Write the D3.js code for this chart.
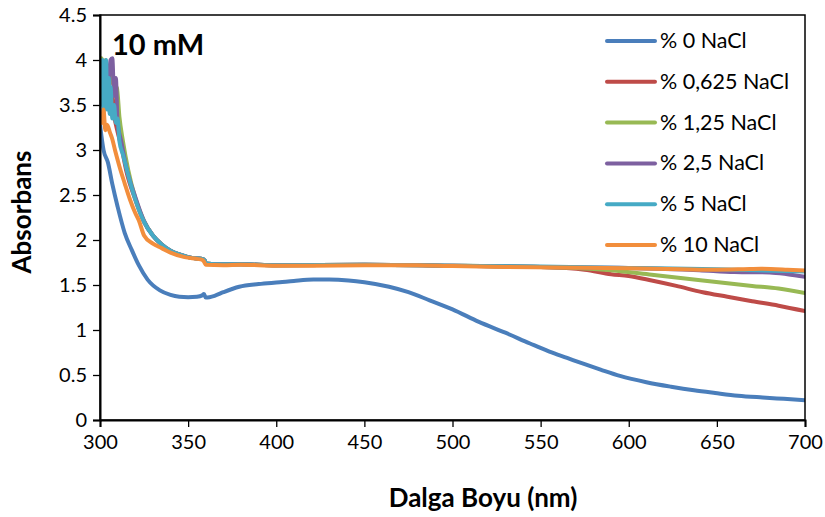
<!DOCTYPE html>
<html><head><meta charset="utf-8">
<script src="https://cdn.jsdelivr.net/npm/d3@7"></script>
<style>
html,body{margin:0;padding:0;background:#fff;}
svg{display:block;font-family:Lato,"Open Sans",sans-serif;}
</style></head>
<body><svg id="c" width="825" height="517"></svg>
<script>
const seriesNames = ["% 0 NaCl","% 0,625 NaCl","% 1,25 NaCl","% 2,5 NaCl","% 5 NaCl","% 10 NaCl"];
const seriesColors = ["#4A7EBB","#BE4B48","#98B954","#7D60A0","#46AAC5","#F28E3C"];
const xTicks = [300,350,400,450,500,550,600,650,700];
const yTicks = [0,0.5,1,1.5,2,2.5,3,3.5,4,4.5];

// % 0 NaCl
const wl0 = [300,302,304.5,307,310,314,318,322,327,334,340,345,350,355,358,359,360,365,370,379,390,402,410,421,430,441,450,464,475,487,500,515,530,544,555,565,575,584,595,610,624,637,649,662,676,688,700];
const ab0 = [3.28,3.0,2.86,2.62,2.37,2.08,1.89,1.72,1.56,1.44,1.39,1.37,1.365,1.37,1.385,1.40,1.36,1.38,1.42,1.48,1.51,1.53,1.545,1.56,1.56,1.55,1.53,1.48,1.42,1.33,1.23,1.09,0.97,0.85,0.76,0.69,0.62,0.56,0.49,0.42,0.37,0.33,0.30,0.27,0.25,0.235,0.22];
// % 0,625 NaCl
const wl1 = [300,301,302,303,304,305,306,307,308,310,312,315,320,325,330,335,340,345,350,355,358,359.5,360,370,380,400,450,500,550,575,590,600,613,627,642,656,670,685,700];
const ab1 = [3.75,3.95,3.8,3.6,3.9,3.7,3.5,3.6,3.4,3.2,3.05,2.76,2.45,2.2,2.05,1.95,1.88,1.84,1.81,1.795,1.79,1.77,1.74,1.73,1.73,1.72,1.725,1.715,1.70,1.67,1.62,1.60,1.55,1.49,1.42,1.37,1.32,1.27,1.21];
// % 1,25 NaCl
const wl2 = [300,301,302,303,304,305,306,307,308,309.6,311,313,316,320,325,330,335,340,345,350,355,358,359.5,360,370,380,400,450,500,550,570,590,613,642,670,685,700];
const ab2 = [3.8,4.02,3.7,4.0,3.8,3.9,3.85,3.75,3.72,3.69,3.37,3.1,2.78,2.47,2.21,2.05,1.95,1.88,1.84,1.81,1.795,1.79,1.77,1.74,1.73,1.73,1.72,1.725,1.715,1.70,1.69,1.665,1.615,1.55,1.49,1.46,1.41];
// % 2,5 NaCl
const wl3 = [300,301,302,303,304,305,306,307,308,309,310,312,315,320,325,330,335,340,345,350,355,358,359.5,360,370,380,400,450,500,550,600,640,660,680,690,700];
const ab3 = [3.7,3.9,3.6,3.95,3.7,3.8,4.0,4.02,3.6,3.8,3.3,3.1,2.8,2.48,2.21,2.05,1.95,1.88,1.84,1.81,1.795,1.79,1.77,1.74,1.73,1.73,1.72,1.725,1.715,1.70,1.69,1.665,1.645,1.64,1.62,1.59];
// % 5 NaCl
const wl4 = [300,300.5,301,301.5,302,302.5,303,303.5,304,305,305.5,306,307,308,309,310,311,313,316,320,325,330,335,340,345,350,355,358,359.5,360,370,380,400,450,500,550,600,650,700];
const ab4 = [3.6,3.9,3.5,4.0,3.4,3.9,3.6,4.0,3.45,3.8,3.4,3.7,3.35,3.5,3.3,3.35,3.1,2.95,2.72,2.45,2.2,2.05,1.95,1.88,1.84,1.81,1.795,1.79,1.77,1.74,1.73,1.73,1.72,1.725,1.715,1.705,1.69,1.675,1.65];
// % 10 NaCl
const wl5 = [300,301,302,303,304,305.7,307,308.5,311,314,317,320,322,325,330,335,340,348,355,358,359,360,370,380,400,420,450,480,500,530,560,600,630,650,665,675,690,700];
const ab5 = [3.39,3.30,3.45,3.22,3.28,3.19,3.12,3.0,2.82,2.63,2.45,2.30,2.22,2.05,1.96,1.91,1.86,1.81,1.79,1.78,1.76,1.725,1.72,1.725,1.715,1.715,1.72,1.72,1.71,1.70,1.695,1.685,1.675,1.67,1.675,1.68,1.67,1.66];

const wls = [wl0,wl1,wl2,wl3,wl4,wl5];
const abs = [ab0,ab1,ab2,ab3,ab4,ab5];

const svg = d3.select("#c");
const L=100,R=805,T=15,B=420;
const x = d3.scaleLinear().domain([300,700]).range([L,R]);
const y = d3.scaleLinear().domain([0,4.5]).range([B,T]);

svg.append("defs").append("clipPath").attr("id","clip")
  .append("rect").attr("x",L).attr("y",T-2).attr("width",R-L).attr("height",B-T+2);

const line = d3.line().x(d=>x(d[0])).y(d=>y(d[1])).curve(d3.curveMonotoneX);
const g = svg.append("g").attr("clip-path","url(#clip)");
seriesNames.forEach((n,i)=>{
  const pts = wls[i].map((w,j)=>[w,abs[i][j]]);
  g.append("path").datum(pts).attr("d",line)
   .attr("fill","none").attr("stroke",seriesColors[i])
   .attr("stroke-width",4).attr("stroke-linejoin","round").attr("stroke-linecap","round");
});

// frame
svg.append("rect").attr("x",L).attr("y",T).attr("width",R-L).attr("height",B-T)
  .attr("fill","none").attr("stroke","#000").attr("stroke-width",1.5);

const yAxis = d3.axisLeft(y).tickValues(yTicks).tickSize(7).tickPadding(6).tickFormat(d=>String(d));
const ya = svg.append("g").attr("transform",`translate(${L},0)`).call(yAxis);
const xAxis = d3.axisBottom(x).tickValues(xTicks).tickSize(7).tickPadding(8).tickFormat(d=>String(d));
const xa = svg.append("g").attr("transform",`translate(0,${B})`).call(xAxis);
[ya,xa].forEach(a=>{
  a.select(".domain").attr("stroke","#000").attr("stroke-width",2);
  a.selectAll(".tick line").attr("stroke","#000").attr("stroke-width",1.3);
  a.selectAll(".tick text").attr("fill","#000").style("font-size","20px").style("font-family","Lato,'Open Sans',sans-serif");
});

svg.append("text").attr("x",483).attr("y",507).attr("text-anchor","middle")
  .style("font-size","26px").style("font-weight","bold").text("Dalga Boyu (nm)");
svg.append("text").attr("transform","translate(31,212) rotate(-90)").attr("text-anchor","middle")
  .style("font-size","26px").style("font-weight","bold").text("Absorbans");
svg.append("text").attr("x",112).attr("y",55)
  .style("font-size","29px").style("font-weight","bold").text("10 mM");

const lg = svg.append("g");
seriesNames.forEach((n,i)=>{
  const yy = 41 + i*40.8;
  lg.append("line").attr("x1",607).attr("x2",655).attr("y1",yy).attr("y2",yy)
    .attr("stroke",seriesColors[i]).attr("stroke-width",4).attr("stroke-linecap","round");
  lg.append("text").attr("x",660).attr("y",yy+7).style("font-size","21.5px").text(n);
});
</script></body></html>
